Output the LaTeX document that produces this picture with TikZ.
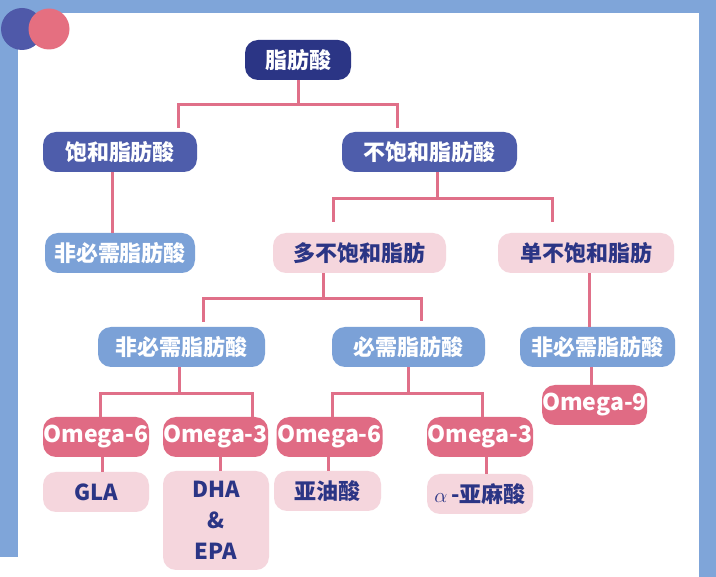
\documentclass[tikz,border=0pt]{standalone}
\usepackage{fontspec}
\setmainfont{Noto Sans CJK SC}[BoldFont={* Black}]
\usetikzlibrary{positioning}

\definecolor{bgblue}{HTML}{7FA5D9}
\definecolor{fanavy}{HTML}{2B3585}
\definecolor{famid}{HTML}{4E5DAB}
\definecolor{falight}{HTML}{7BA1D7}
\definecolor{fapink}{HTML}{F5D6DD}
\definecolor{faomega}{HTML}{E06B84}
\definecolor{falink}{HTML}{E07089}
\definecolor{dotblue}{HTML}{4F59A9}
\definecolor{dotpink}{HTML}{E56F80}

\tikzset{
  box/.style={rounded corners=13pt, minimum height=40pt, inner sep=0pt,
    font=\bfseries\fontsize{22}{26}\selectfont},
  dark/.style={box, fill=fanavy, text=white},
  mid/.style={box, fill=famid, text=white},
  light/.style={box, fill=falight, text=white},
  soft/.style={box, fill=fapink, text=fanavy},
  omega/.style={box, fill=faomega, text=white,
    font=\bfseries\fontsize{23}{26}\selectfont},
  link/.style={draw=falink, line width=3pt}
}

\begin{document}
\begin{tikzpicture}[x=1pt, y=-1pt]
  \useasboundingbox (0,0) rectangle (716,577);

  %frame and the two dots
  \fill[bgblue] (0,0) rectangle (716,577);
  \fill[white] (18,13) rectangle (699,577);
  \fill[white] (0,557) rectangle (18,577);
  \fill[dotblue] (22,29) circle (21pt);
  \fill[dotpink] (49,29) circle (20.5pt);

  %boxes
  \node[dark, minimum width=106pt] (fa) at (298,60) {脂肪酸};
  \node[mid, minimum width=154pt] (sat) at (120,152) {饱和脂肪酸};
  \node[mid, minimum width=175pt] (unsat) at (429.5,152) {不饱和脂肪酸};

  \node[light, minimum width=150pt] (ne1) at (120,253) {非必需脂肪酸};
  \node[soft, minimum width=173pt] (poly) at (359.5,253) {多不饱和脂肪};
  \node[soft, minimum width=176pt] (mono) at (586,253) {单不饱和脂肪};

  \node[light, minimum width=167pt] (ne2) at (181.5,347) {非必需脂肪酸};
  \node[light, minimum width=153pt] (ess) at (408.5,347) {必需脂肪酸};
  \node[light, minimum width=155pt] (ne3) at (597.5,347) {非必需脂肪酸};
  \node[omega, minimum width=105pt] (om9) at (594.5,405) {Omega-9};

  \node[omega, minimum width=106pt] (o6a) at (96,437) {Omega-6};
  \node[omega, minimum width=105pt] (o3a) at (215.5,437) {Omega-3};
  \node[omega, minimum width=106pt] (o6b) at (329.5,437) {Omega-6};
  \node[omega, minimum width=106pt] (o3b) at (480,437) {Omega-3};

  \node[soft, minimum width=106pt] (gla) at (96,492) {GLA};
  \node[soft, minimum width=106pt, minimum height=99pt, align=center,
    font=\bfseries\fontsize{22}{31}\selectfont] (dha) at (216,520.5) {DHA\\\&\\EPA};
  \node[soft, minimum width=107pt] (lin) at (327.5,491) {亚油酸};
  \node[soft, minimum width=106pt] (ala) at (480,494) {$\alpha$\,-亚麻酸};

  %connectors
  \draw[link] (fa.south) -- ++(0,24) coordinate (b1);
  \draw[link] ([xshift=58pt,yshift=4pt]sat.north) |- (b1)
    -| ([xshift=-32.5pt,yshift=4pt]unsat.north);
  \draw[link] ([xshift=-8pt]sat.south) -- ([xshift=-8pt]ne1.north);

  \draw[link] ([xshift=7.5pt]unsat.south) -- ++(0,26) coordinate (b2);
  \draw[link] ([xshift=-26.5pt,yshift=11pt]poly.north) |- (b2)
    -| ([xshift=-34pt,yshift=11pt]mono.north);
  \draw[link] ([xshift=3pt]mono.south) -- ([xshift=-8.5pt]ne3.north);

  \draw[link] ([xshift=-36.5pt]poly.south) -- ++(0,25) coordinate (b3);
  \draw[link] ([xshift=21.5pt,yshift=5pt]ne2.north) |- (b3)
    -| ([xshift=12.5pt,yshift=6pt]ess.north);

  \draw[link] ([xshift=-2.5pt]ne2.south) -- ++(0,26) coordinate (b4);
  \draw[link] ([xshift=4pt]o6a.north) |- (b4) -| ([xshift=36.5pt]o3a.north);
  \draw[link] (ess.south) -- ++(0,26) coordinate (b5);
  \draw[link] ([xshift=2.5pt]o6b.north) |- (b5) -| ([xshift=2pt]o3b.north);
  \draw[link] ([xshift=-6.5pt]ne3.south) -- ([xshift=-3.5pt]om9.north);

  \draw[link] ([xshift=6pt]o6a.south) -- ([xshift=6pt]gla.north);
  \draw[link] ([xshift=4.5pt]o3a.south) -- ([xshift=4pt]dha.north);
  \draw[link] ([xshift=-1.5pt]o6b.south) -- ([xshift=0.5pt]lin.north);
  \draw[link] ([xshift=6pt]o3b.south) -- ([xshift=6pt]ala.north);
\end{tikzpicture}
\end{document}
